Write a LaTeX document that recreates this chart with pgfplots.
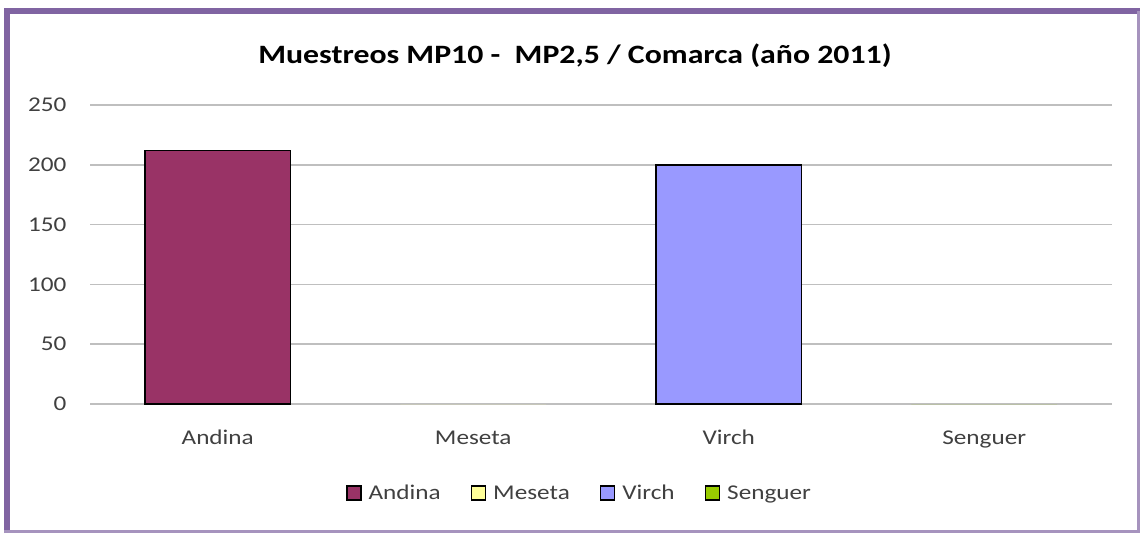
\documentclass[border=0pt]{standalone}
\usepackage{fontspec}
\setmainfont{Carlito}[FakeStretch=1.2]
\usepackage{pgfplots}
\pgfplotsset{compat=1.18}
\definecolor{framec}{HTML}{8064A2}
\definecolor{andina}{HTML}{993366}
\definecolor{meseta}{HTML}{FFFF99}
\definecolor{virch}{HTML}{9999FF}
\definecolor{senguer}{HTML}{99CC00}
\definecolor{txt}{HTML}{404040}
\definecolor{gridc}{HTML}{BFBFBF}
\begin{document}
\begin{tikzpicture}[x=1pt,y=1pt]
\useasboundingbox (0,0) rectangle (1140,533);
\fill[white] (0,0) rectangle (1140,533);
\begin{axis}[
  at={(90pt,129pt)}, anchor=south west,
  scale only axis, width=1022pt, height=299pt,
  xmin=-0.5, xmax=3.5, ymin=0, ymax=250,
  ytick={0,50,100,150,200,250},
  xtick={0,1,2,3},
  xticklabels={Andina,Meseta,Virch,Senguer},
  axis line style={draw=none},
  major tick length=0pt,
  ymajorgrids, grid style={gridc, line width=1.5pt},
  ybar, bar width=0.571,
  /pgf/number format/assume math mode=true,
  tick label style={font=\fontsize{21}{24}\selectfont, text=txt},
  xticklabel style={anchor=base, yshift=-40pt},
  yticklabel style={anchor=east, xshift=-20pt},
  legend style={at={(0.479,-0.298)}, anchor=center, draw=none, fill=none,
    legend columns=4, font=\fontsize{21}{24}\selectfont, text=txt,
    /tikz/every odd column/.append style={column sep=5pt},
    /tikz/every even column/.append style={column sep=28pt}},
  legend image code/.code={\draw[#1, draw=black, line width=1.5pt] (0pt,-7pt) rectangle (14pt,7pt);},
]
\addplot[fill=andina, draw=black, line width=1.5pt, bar shift=0pt] coordinates {(0,212)};
\addplot[fill=meseta, draw=none, bar shift=0pt] coordinates {(1,0)};
\addplot[fill=virch, draw=black, line width=1.5pt, bar shift=0pt] coordinates {(2,200)};
\addplot[fill=senguer, draw=none, bar shift=0pt] coordinates {(3,0)};
\legend{Andina,Meseta,Virch,Senguer}
\end{axis}
\node[font=\bfseries\fontsize{26.5}{30}\selectfont] at (575,477) {Muestreos MP10 -\ \ MP2,5 / Comarca (año 2011)};
\draw[framec, line width=6pt] (7,0) -- (7,525);
\draw[framec, line width=6pt] (4,522) -- (1140,522);
\draw[framec!70, line width=3pt] (1138.5,522) -- (1138.5,0);
\draw[framec!70, line width=3pt] (4,1.5) -- (1140,1.5);
\end{tikzpicture}
\end{document}
